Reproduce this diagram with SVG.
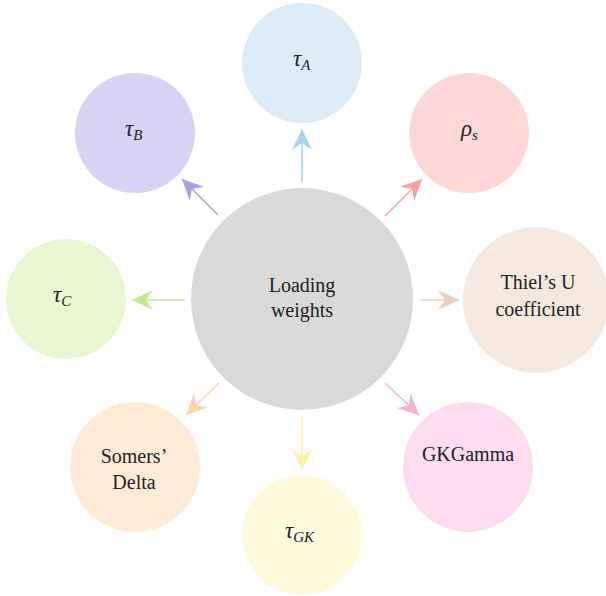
<svg xmlns="http://www.w3.org/2000/svg" width="606" height="596" viewBox="0 0 606 596">
<style>
.lbl{font-family:"Liberation Serif","DejaVu Serif",serif;font-size:20px;fill:#222;text-anchor:middle}
.gr{font-family:"Liberation Serif","DejaVu Serif",serif;font-style:italic;fill:#222;font-size:23px}
.sub{font-size:15px}
.cn{stroke-width:1.6;fill:none}
</style>
<defs>
<marker id="mA" markerUnits="userSpaceOnUse" viewBox="-22 -11 23 22" refX="0" refY="0" markerWidth="23" markerHeight="22" orient="auto"><path d="M0,0 L-21,-10 L-14,0 L-21,10 Z" fill="#a3d5ef"/></marker>
<marker id="mB" markerUnits="userSpaceOnUse" viewBox="-22 -11 23 22" refX="0" refY="0" markerWidth="23" markerHeight="22" orient="auto"><path d="M0,0 L-21,-10 L-14,0 L-21,10 Z" fill="#aaa2e2"/></marker>
<marker id="mR" markerUnits="userSpaceOnUse" viewBox="-22 -11 23 22" refX="0" refY="0" markerWidth="23" markerHeight="22" orient="auto"><path d="M0,0 L-21,-10 L-14,0 L-21,10 Z" fill="#ffa0a0"/></marker>
<marker id="mC" markerUnits="userSpaceOnUse" viewBox="-22 -11 23 22" refX="0" refY="0" markerWidth="23" markerHeight="22" orient="auto"><path d="M0,0 L-21,-10 L-14,0 L-21,10 Z" fill="#c4ea92"/></marker>
<marker id="mT" markerUnits="userSpaceOnUse" viewBox="-22 -11 23 22" refX="0" refY="0" markerWidth="23" markerHeight="22" orient="auto"><path d="M0,0 L-21,-10 L-14,0 L-21,10 Z" fill="#ecd2bc"/></marker>
<marker id="mS" markerUnits="userSpaceOnUse" viewBox="-22 -11 23 22" refX="0" refY="0" markerWidth="23" markerHeight="22" orient="auto"><path d="M0,0 L-21,-10 L-14,0 L-21,10 Z" fill="#ffd3a3"/></marker>
<marker id="mG" markerUnits="userSpaceOnUse" viewBox="-22 -11 23 22" refX="0" refY="0" markerWidth="23" markerHeight="22" orient="auto"><path d="M0,0 L-21,-10 L-14,0 L-21,10 Z" fill="#f5b0d6"/></marker>
<marker id="mK" markerUnits="userSpaceOnUse" viewBox="-22 -11 23 22" refX="0" refY="0" markerWidth="23" markerHeight="22" orient="auto"><path d="M0,0 L-21,-10 L-14,0 L-21,10 Z" fill="#fff0a6"/></marker>
</defs>
<rect width="606" height="596" fill="#ffffff"/>
<g id="connectors">
<line class="cn" x1="302" y1="182" x2="302" y2="129" stroke="#a3d5ef" marker-end="url(#mA)"/>
<line class="cn" x1="218" y1="215" x2="182" y2="179" stroke="#aaa2e2" marker-end="url(#mB)"/>
<line class="cn" x1="385" y1="216" x2="422" y2="179" stroke="#ffa0a0" marker-end="url(#mR)"/>
<line class="cn" x1="185" y1="300" x2="132" y2="300" stroke="#c4ea92" marker-end="url(#mC)"/>
<line class="cn" x1="420" y1="300" x2="459" y2="300" stroke="#ecd2bc" marker-end="url(#mT)"/>
<line class="cn" x1="219" y1="383" x2="186" y2="415" stroke="#ffd3a3" marker-end="url(#mS)"/>
<line class="cn" x1="385" y1="383" x2="419" y2="415" stroke="#f5b0d6" marker-end="url(#mG)"/>
<line class="cn" x1="302" y1="417" x2="302" y2="470" stroke="#fff0a6" marker-end="url(#mK)"/>
</g>
<g id="center">
<circle cx="302" cy="299" r="111" fill="#d9d9d9"/>
<text class="lbl" x="302" y="292">Loading</text>
<text class="lbl" x="302" y="317">weights</text>
</g>
<g id="tauA">
<circle cx="302" cy="63" r="60" fill="#dbecf8"/>
<text class="gr" x="293" y="66">τ<tspan class="sub" dy="4">A</tspan></text>
</g>
<g id="tauB">
<circle cx="135" cy="133" r="60" fill="#d6d3f3"/>
<text class="gr" x="125" y="136">τ<tspan class="sub" dy="4">B</tspan></text>
</g>
<g id="rhoS">
<circle cx="469" cy="133" r="60" fill="#ffd7d7"/>
<text class="gr" x="461" y="136">ρ<tspan class="sub" dy="4">s</tspan></text>
</g>
<g id="tauC">
<circle cx="66" cy="299" r="60" fill="#e7f7d1"/>
<text class="gr" x="53" y="302">τ<tspan class="sub" dy="4">C</tspan></text>
</g>
<g id="thiel">
<circle cx="536" cy="300" r="73" fill="#f5e8de"/>
<text class="lbl" x="538" y="289">Thiel’s U</text>
<text class="lbl" x="538" y="316">coefficient</text>
</g>
<g id="somers">
<circle cx="135" cy="467" r="65" fill="#ffebd5"/>
<text class="lbl" x="134" y="463">Somers’</text>
<text class="lbl" x="134" y="489">Delta</text>
</g>
<g id="gkgamma">
<circle cx="468" cy="467" r="65" fill="#fcdcee"/>
<text class="lbl" x="468" y="461">GKGamma</text>
</g>
<g id="tauGK">
<circle cx="302" cy="535" r="60" fill="#fff9dd"/>
<text class="gr" x="285" y="538">τ<tspan class="sub" dy="4">GK</tspan></text>
</g>
</svg>
